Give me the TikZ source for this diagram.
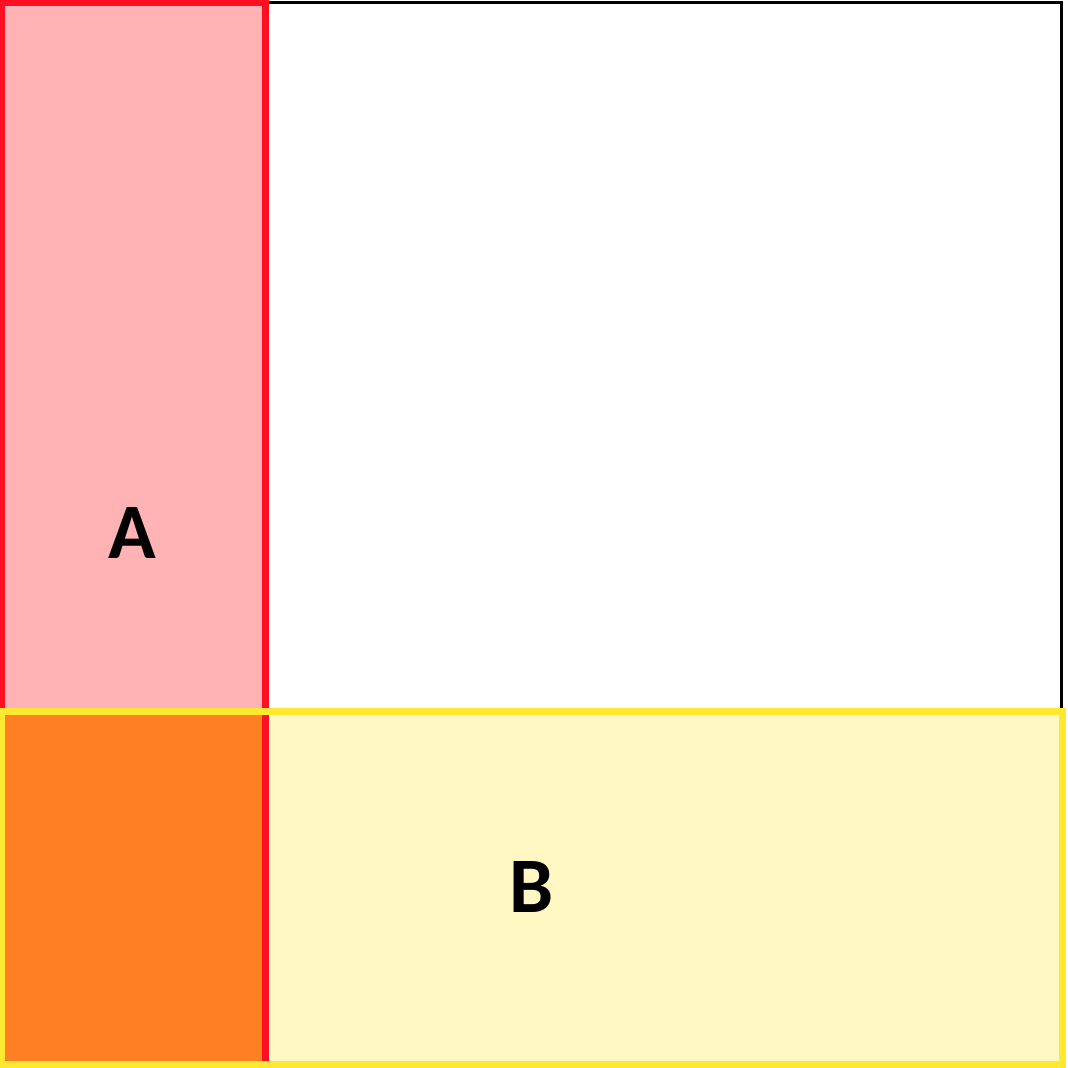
\documentclass[tikz,border=0pt]{standalone}
\usepackage{fontspec}
\setmainfont{Carlito}
\definecolor{pinkA}{HTML}{FFB3B5}
\definecolor{redA}{HTML}{FF0F22}
\definecolor{yelB}{HTML}{FFE930}
\definecolor{lightB}{HTML}{FFF8C2}
\definecolor{orangeAB}{HTML}{FF8022}
\tikzset{
  lbl/.style={font=\bfseries\fontsize{59}{59}\selectfont, text=black, inner sep=0pt},
  redline/.style={draw=redA, line width=4.8pt},
  yelline/.style={draw=yelB, line width=5.2pt},
}
\begin{document}
\begin{tikzpicture}[x=0.75pt,y=-0.75pt]
\useasboundingbox (0,0) rectangle (1068,1068);
\fill[white] (0,0) rectangle (1068,1068);
% outer square
\draw[black, line width=2.4pt] (2,2.5) rectangle (1061.5,1062);
% A
\fill[pinkA] (2,2.5) rectangle (265.5,1062);
\draw[redline] (2,2.5) rectangle (265.5,1062);
% B
\fill[lightB] (2,711.5) rectangle (1062.5,1064.5);
\fill[orangeAB] (2,711.5) rectangle (265.5,1064.5);
\draw[redline] (265.5,711.5) -- (265.5,1062);
\draw[yelline] (2,711.5) rectangle (1062.5,1064.5);
\node[lbl] (A) at (132,533) {A};
\node[lbl] (B) at (532,887) {B};
\end{tikzpicture}
\end{document}
